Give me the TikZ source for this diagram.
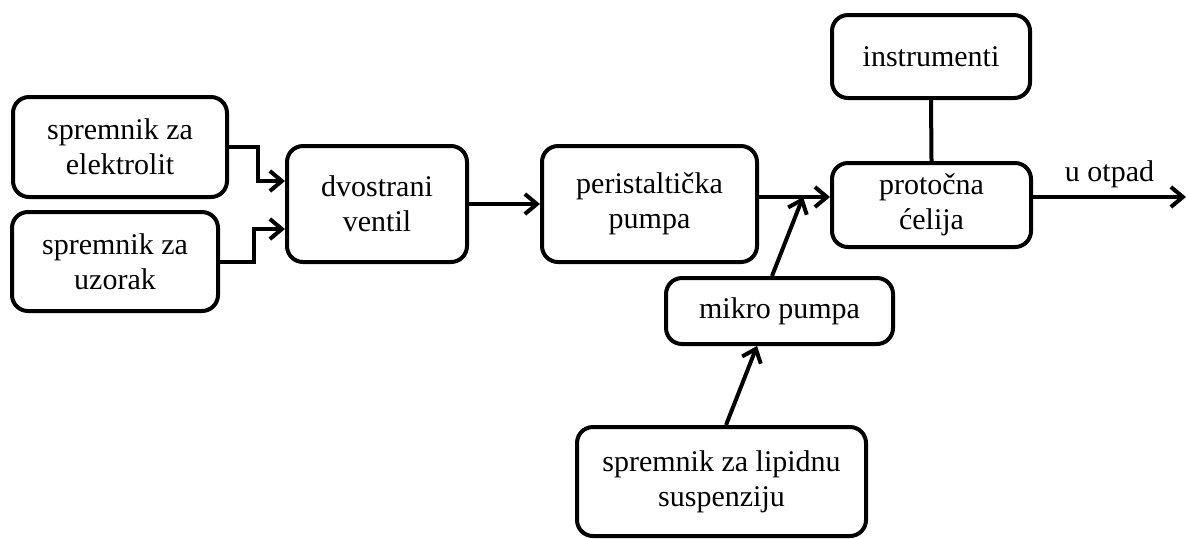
\documentclass[tikz,border=0pt]{standalone}
\usepackage{fontspec}
\setmainfont{Liberation Serif}
\usepackage{tikz}
\usetikzlibrary{positioning, arrows.meta}

\begin{document}
\begin{tikzpicture}[
    x=0.5pt, y=-0.5pt,
    font=\fontsize{15}{17.5}\selectfont,
    line width=2pt,
    >={Straight Barb[length=6pt, width=10pt]},
    block/.style={rectangle, draw, rounded corners=8pt, align=center, inner sep=0pt},
    flow/.style={->, line join=miter}
]
\useasboundingbox (0,0) rectangle (1186,538);

\node [block, minimum width=107pt, minimum height=50pt] (elektrolit) at (120,147) {spremnik za\\ elektrolit};
\node [block, minimum width=103pt, minimum height=49.5pt] (uzorak) at (115,261.5) {spremnik za\\ uzorak};
\node [block, minimum width=90pt, minimum height=58pt] (ventil) at (377,204) {dvostrani\\ ventil};
\node [block, minimum width=107.5pt, minimum height=58pt] (pumpa) at (649.5,204) {peristaltička\\ pumpa};
\node [block, minimum width=99.5pt, minimum height=42pt] (celija) at (931.5,205) {protočna\\ ćelija};
\node [block, minimum width=99pt, minimum height=41.5pt] (instrumenti) at (931,56.5) {instrumenti};
\node [block, minimum width=113.5pt, minimum height=33pt] (mikro) at (779.5,311) {mikro pumpa};
\node [block, minimum width=144.5pt, minimum height=54.5pt] (lipidi) at (721.5,481.5) {spremnik za lipidnu\\ suspenziju};

\coordinate (spoj) at ([xshift=22pt, yshift=3.5pt]pumpa.east);
\coordinate (otpad) at (1186,197);

\draw [flow] (elektrolit.east) -- ++(14.5pt,0) |- ([yshift=11.5pt]ventil.west);
\draw [flow] (uzorak.east) -- ++(17pt,0) |- ([yshift=-12.5pt]ventil.west);
\draw [flow] (ventil.east) -- (pumpa.west);
\draw [flow] ([yshift=3.5pt]pumpa.east) -- (spoj -| celija.west);
\draw [flow] ([xshift=-3.75pt]mikro.north) -- (spoj);
\draw [flow] ([xshift=2.25pt]lipidi.north) -- ([xshift=-11.25pt]mikro.south);
\draw (instrumenti.south) -- (celija.north);
\draw [flow] (otpad -| celija.east) -- node[midway, above] {u otpad} (otpad);

\end{tikzpicture}
\end{document}
